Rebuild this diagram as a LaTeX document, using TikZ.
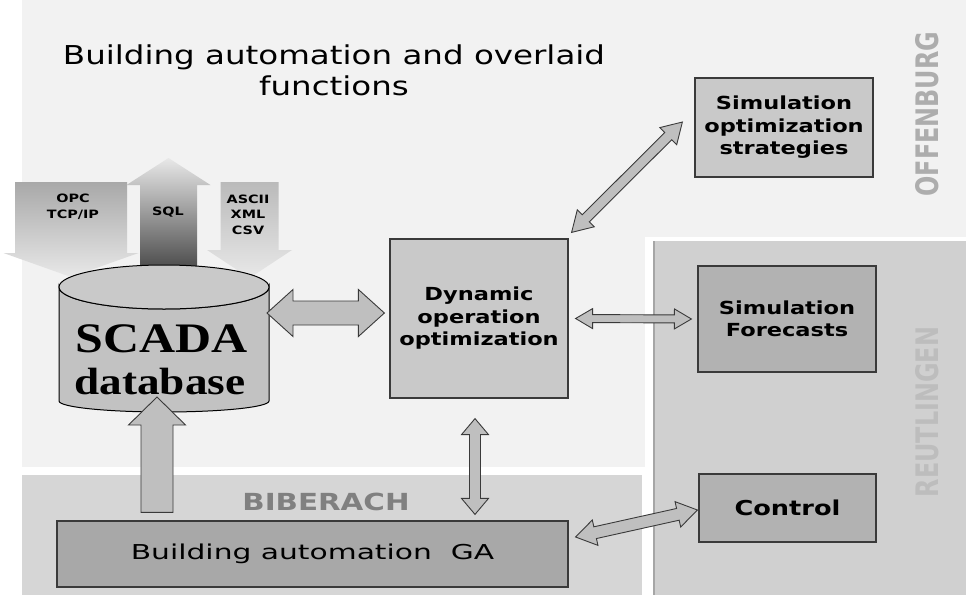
\documentclass[tikz,border=0pt]{standalone}
\usepackage{fontspec}
\setmainfont{DejaVu Sans}[FakeStretch=1.25]
\newfontfamily\sidefont{DejaVu Sans}[FakeStretch=0.77]
\newfontfamily\gafont{DejaVu Sans}[FakeStretch=1.45]
\newfontfamily\dbfont{Liberation Serif}[FakeStretch=1.19]
\usetikzlibrary{calc}
\definecolor{offbg}{HTML}{F2F2F2}
\definecolor{reutbg}{HTML}{D0D0D0}
\definecolor{bibbg}{HTML}{D6D6D6}
\definecolor{edge}{HTML}{3A3A3A}
\newcommand{\fs}[2]{\fontsize{#1}{#2}\selectfont}

% block arrow with a head at both ends: [style]{from}{to}{shaft half width}{head half width}{head length}
\newcommand{\dblarrow}[6][]{%
  \draw[#1] let \p1=#2, \p2=#3, \n1={atan2(\y2-\y1,\x2-\x1)} in
    (\p1) -- ($(\p1)+(\n1:#6)+(\n1+90:#5)$) -- ($(\p1)+(\n1:#6)+(\n1+90:#4)$)
    -- ($(\p2)+(\n1+180:#6)+(\n1+90:#4)$) -- ($(\p2)+(\n1+180:#6)+(\n1+90:#5)$)
    -- (\p2) -- ($(\p2)+(\n1+180:#6)+(\n1-90:#5)$) -- ($(\p2)+(\n1+180:#6)+(\n1-90:#4)$)
    -- ($(\p1)+(\n1:#6)+(\n1-90:#4)$) -- ($(\p1)+(\n1:#6)+(\n1-90:#5)$) -- cycle;}
% block arrow with one head, at the "to" end
\newcommand{\sglarrow}[6][]{%
  \draw[#1] let \p1=#2, \p2=#3, \n1={atan2(\y2-\y1,\x2-\x1)} in
    ($(\p1)+(\n1+90:#4)$) -- ($(\p2)+(\n1+180:#6)+(\n1+90:#4)$) -- ($(\p2)+(\n1+180:#6)+(\n1+90:#5)$)
    -- (\p2) -- ($(\p2)+(\n1+180:#6)+(\n1-90:#5)$) -- ($(\p2)+(\n1+180:#6)+(\n1-90:#4)$)
    -- ($(\p1)+(\n1-90:#4)$) -- cycle;}

\begin{document}
\begin{tikzpicture}[x=1pt,y=-1pt,
box/.style={draw=edge,line width=1.2pt,align=center,inner sep=0pt,font=\bfseries\fs{18}{22.5}},
lightbox/.style={box,fill=black!21}, darkbox/.style={box,fill=black!30},
site/.style={font=\sidefont\bfseries\fs{31}{31},rotate=90},
link/.style={draw=edge,line width=0.9pt,fill=black!25},
feed/.style={align=center,inner sep=0pt,font=\bfseries\fs{11.5}{15.5}}]
% partner areas
\fill[white] (0,0) rectangle (966,595);
\useasboundingbox (0,0) rectangle (966,595);
\fill[offbg] (22,0) rectangle (966,467);
\fill[white] (645,237) rectangle (966,595);
\fill[reutbg] (653,241) rectangle (966,595);
\draw[black!35,line width=1.5pt] (653.75,241) -- (653.75,595);
\fill[bibbg] (22,475) rectangle (642,595);
\node[font=\fs{26}{31},align=center,inner sep=0pt] (title) at (334,70) {Building automation and overlaid\\functions};
\node[site,text=black!32] (offenburg) at (927,114) {OFFENBURG};
\node[site,text=black!26] (reutlingen) at (927,412) {REUTLINGEN};
\node[font=\bfseries\fs{23.5}{28},text=black!50] (biberach) at (326,502) {BIBERACH};
% function blocks
\node[lightbox,minimum width=178pt,minimum height=99pt] (simopt) at (784,127.5) {Simulation\\optimization\\strategies};
\node[lightbox,minimum width=178pt,minimum height=159pt] (dyn) at (479,318.5) {Dynamic\\operation\\optimization};
\node[darkbox,minimum width=178pt,minimum height=106pt] (simfc) at (787,319) {Simulation\\Forecasts};
\node[darkbox,minimum width=177pt,minimum height=68pt,font=\bfseries\fs{20.5}{24}] (ctrl) at (787.5,508) {Control};
\node[box,fill=black!34,minimum width=511pt,minimum height=66pt,font=\gafont\fs{20.5}{24}] (ga) at (312.5,554) {Building automation\ \ GA};
% interfaces into the database
\sglarrow[draw=none,top color=black!34,bottom color=black!9]{(71,182)}{(71,277)}{56pt}{67.5pt}{24pt}
\sglarrow[draw=none,top color=black!9,bottom color=black!70]{(168.5,268)}{(168.5,158)}{28.5pt}{42pt}{27pt}
\sglarrow[draw=none,top color=black!27,bottom color=black!9]{(249.5,182)}{(249.5,278)}{29pt}{42.5pt}{28pt}
\node[feed] (opc) at (73,207) {OPC\\TCP/IP};
\node[feed] (sql) at (168,212) {SQL};
\node[feed] (ascii) at (248,214.5) {ASCII\\XML\\CSV};
% SCADA database
\path[draw=black,line width=1pt,fill=black!24] (59,287) -- (59,401)
  arc[start angle=180,end angle=360,x radius=105pt,y radius=11pt] -- (269,287)
  arc[start angle=0,end angle=-180,x radius=105pt,y radius=22pt] -- cycle;
\draw[line width=1pt,fill=black!21] (164,287) ellipse[x radius=105pt,y radius=22pt];
\node[font=\dbfont\bfseries\fs{42}{42}] (scada) at (162,339) {SCADA};
\node[font=\dbfont\bfseries\fs{38}{38}] (dbase) at (160,381) {database};
\coordinate (dbE) at (267,313);
\coordinate (dbS) at (157,397);
% links
\sglarrow[link]{($(dbS|-ga.north)+(0,-8)$)}{(dbS)}{16pt}{28.5pt}{28pt}
\dblarrow[link]{(dbE)}{($(dyn.west|-dbE)+(-5,0)$)}{12pt}{23.5pt}{26pt}
\dblarrow[link]{($(dyn.east)+(7,0)$)}{($(simfc.west)+(-6,0)$)}{4pt}{10pt}{17pt}
\dblarrow[link]{($(dyn.north east)+(3,-6)$)}{($(simopt.west)+(-12,-5.5)$)}{5pt}{12pt}{20pt}
\dblarrow[link]{($(dyn.south)+(-4,20)$)}{($(dyn.south|-ga.north)+(-4,-6)$)}{5.5pt}{13.5pt}{16pt}
\dblarrow[link]{($(ga.east)+(7,-17)$)}{($(ctrl.west)+(-1,2)$)}{6pt}{13pt}{20pt}
\end{tikzpicture}
\end{document}
